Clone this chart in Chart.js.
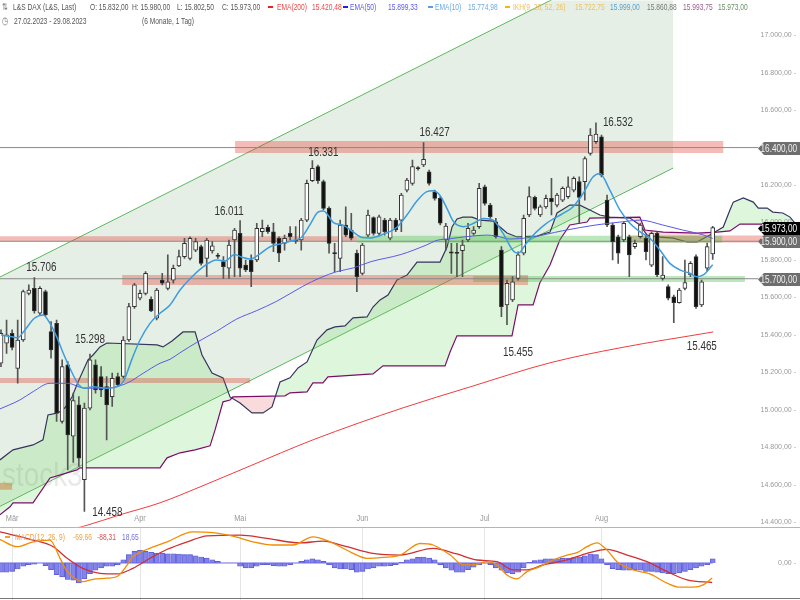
<!DOCTYPE html>
<html>
<head>
<meta charset="utf-8">
<title>L&amp;S DAX</title>
<script src="https://cdn.jsdelivr.net/npm/chart.js@4.4.1/dist/chart.umd.min.js"></script>
<style>
  body { margin: 0; background: #fff; }
  #wrap { position: relative; width: 800px; height: 600px; overflow: hidden;
          font-family: "Liberation Sans", Arial, sans-serif; }
  #main { position: absolute; left: 0; top: 0; }
  #macd { position: absolute; left: 0; top: 527px; }
  .t { position: absolute; font-size: 9.5px; line-height: 10px; white-space: nowrap; color: #555;
       transform: scaleX(0.7); transform-origin: 0 50%; }
  .d { position: absolute; width: 5px; height: 2px; }
</style>
</head>
<body>
<div id="wrap">
  <canvas id="main" width="800" height="527"></canvas>
  <canvas id="macd" width="800" height="73"></canvas>

  <!-- header line 1 -->
  <div class="t" style="left:2px;top:2px;color:#777">⇅</div>
  <div class="t" style="left:13px;top:2px">L&amp;S DAX (L&amp;S, Last)</div>
  <div class="t" style="left:90px;top:2px">O: 15.832,00</div>
  <div class="t" style="left:132px;top:2px">H: 15.980,00</div>
  <div class="t" style="left:177px;top:2px">L: 15.802,50</div>
  <div class="t" style="left:222px;top:2px">C: 15.973,00</div>
  <div class="d" style="left:268px;top:6px;background:#e82020"></div>
  <div class="t" style="left:277px;top:2px;color:#f04848">EMA(200)</div>
  <div class="t" style="left:312px;top:2px;color:#f04848">15.420,48</div>
  <div class="d" style="left:343px;top:6px;background:#2020e8"></div>
  <div class="t" style="left:350px;top:2px;color:#5a5af0">EMA(50)</div>
  <div class="t" style="left:388px;top:2px;color:#5a5af0">15.899,33</div>
  <div class="d" style="left:428px;top:6px;background:#5aa0e0"></div>
  <div class="t" style="left:435px;top:2px;color:#6aaae6">EMA(10)</div>
  <div class="t" style="left:468px;top:2px;color:#6aaae6">15.774,98</div>
  <div class="d" style="left:505px;top:6px;background:#f5b800"></div>
  <div class="t" style="left:513px;top:2px;color:#f0c060">IKH(9, 26, 52, 26)</div>
  <div class="t" style="left:575px;top:2px;color:#f0c060">15.722,75</div>
  <div class="t" style="left:610px;top:2px;color:#5a9fd0">15.999,00</div>
  <div class="t" style="left:647px;top:2px;color:#777">15.860,88</div>
  <div class="t" style="left:683px;top:2px;color:#9a5a8a">15.993,75</div>
  <div class="t" style="left:718px;top:2px;color:#6a8f6a">15.973,00</div>
  <!-- header line 2 -->
  <div class="t" style="left:2px;top:16px;color:#777">◷</div>
  <div class="t" style="left:14px;top:16px">27.02.2023 - 29.08.2023</div>
  <div class="t" style="left:142px;top:16px">(6 Monate, 1 Tag)</div>

  <!-- MACD legend -->
  <div class="d" style="left:5px;top:536px;background:#f0a030"></div>
  <div class="t" style="left:15px;top:532px;color:#f0a040">MACD(12, 26, 9)</div>
  <div class="t" style="left:73px;top:532px;color:#f0a040">-69,66</div>
  <div class="t" style="left:97px;top:532px;color:#e05050">-88,31</div>
  <div class="t" style="left:122px;top:532px;color:#7070e0">18,65</div>
</div>

<script>
// ---------- Kerzen (27.02.2023 - 29.08.2023, Handelstage 0..128) ----------
const candleOpen = [
  15249,15356,15409,15222,15373,15622,15649,15516,15631,15418,
  15462,14938,15240,14860,15027,14627,15009,15240,15178,15124,
  15071,15178,15178,15373,15551,15596,15622,15590,15489,15693,
  15649,15693,15768,15818,15809,15853,15871,15809,15848,15823,
  15791,15756,15907,15942,15773,15800,15800,15951,15974,15951,
  15916,15889,15942,15905,15907,16013,16223,16298,16218,16076,
  15838,15809,15987,15960,15836,15729,15933,16026,15942,16013,
  15916,16013,16013,16173,16209,16290,16307,16271,16164,16129,
  15907,15844,15837,15850,15907,15942,15978,16191,16093,16004,
  15853,15560,15587,15702,15836,16040,16134,16040,16084,16129,
  16093,16120,16138,16173,16218,16218,16369,16431,16458,16120,
  15987,15924,15907,15924,15871,15924,15916,15773,15942,15702,
  15658,15604,15572,15649,15720,15818,15560,15756,15832
];
const candleHigh = [
  15427,15480,15427,15480,15640,15667,15706,15658,15640,15471,
  15480,15267,15258,15090,15071,15036,15298,15267,15231,15178,
  15196,15196,15391,15569,15676,15640,15738,15604,15649,15729,
  15827,15773,15853,15916,15924,15916,15880,15916,15898,15836,
  15818,15907,15969,16011,15800,15827,15996,16013,15987,15996,
  15924,15933,15978,15978,16022,16227,16331,16307,16227,16084,
  15889,16013,16084,16049,15853,15889,16067,16031,16040,16022,
  16022,16022,16156,16236,16333,16298,16427,16280,16173,16138,
  15996,15889,15889,15907,15996,15978,16209,16200,16102,16022,
  15871,15693,15711,15844,16040,16191,16141,16093,16147,16236,
  16156,16191,16244,16244,16244,16351,16502,16532,16467,16147,
  15996,15933,16004,15933,15907,15996,15933,15951,15951,15818,
  15667,15613,15649,15800,15791,15827,15693,15890,15980
];
const candleLow = [
  15231,15302,15320,15142,15365,15613,15516,15507,15501,15276,
  14938,14929,14680,14720,14698,14458,15000,15089,15071,14840,
  15018,15124,15169,15365,15542,15587,15613,15524,15480,15667,
  15640,15676,15764,15809,15800,15844,15773,15711,15836,15809,
  15702,15702,15711,15711,15738,15658,15791,15925,15942,15844,
  15791,15853,15907,15889,15853,16004,16218,16209,16067,15836,
  15738,15738,15924,15907,15631,15720,15924,15933,15933,15933,
  15907,15951,15951,16164,16200,16280,16298,16200,16120,15987,
  15853,15729,15711,15711,15898,15933,15969,16093,16022,15916,
  15498,15455,15578,15693,15827,16031,16067,16031,16076,16040,
  16084,16111,16129,16164,15996,16120,16360,16422,16244,15978,
  15800,15782,15898,15711,15862,15916,15800,15764,15711,15693,
  15587,15465,15569,15640,15711,15542,15551,15740,15802.5
];
const candleClose = [
  15409,15400,15334,15373,15631,15640,15528,15649,15507,15320,
  14982,15231,14867,15050,14742,15009,15267,15107,15107,15027,
  15169,15133,15373,15551,15667,15622,15729,15528,15640,15676,
  15684,15756,15818,15889,15916,15898,15782,15907,15875,15819,
  15764,15880,15960,15756,15747,15738,15969,15969,15951,15889,
  15836,15916,15924,15901,16013,16209,16289,16223,16076,15889,
  15834,15987,15933,15916,15711,15880,16040,15942,16031,15951,
  16013,15960,16147,16227,16298,16288,16337,16209,16129,15996,
  15981,15836,15835,15880,15969,15960,16182,16102,16031,15924,
  15551,15676,15684,15827,16022,16138,16076,16084,16129,16111,
  16147,16182,16191,16236,16134,16342,16467,16472,16253,15987,
  15898,15836,15996,15827,15889,15987,15844,15942,15720,15720,
  15596,15572,15640,15679,15782,15551,15684,15871,15973
];

// ---------- Indikatoren (x = Handelstag-Index) ----------
const ema10Idx = [0,2,3,4.3,6,7.6,8.8,10,11.2,12.4,14,15,16.6,19,20.8,22,23.5,25,26.8,28.6,30.4,32.2,34,36.4,38.8,40.3,42,43.3,44.8,46.3,48.4,50.2,52,54,55.6,57,58,59.8,61.6,63.3,65,66.5,68.8,71.2,73,74.8,76.5,77.7,78.9,80.2,81.4,83.2,85,86.8,88.5,90.3,92.1,93,94.5,96.3,98.1,101.1,102.9,104.7,106.5,107.7,109.5,111.3,113.1,114.9,116.7,118.5,120.3,122.1,123.9,125.1,126.3,128];
const ema10Val = [15400,15390,15385,15427,15489,15507,15462,15391,15302,15222,15133,15116,15124,15116,15124,15151,15267,15373,15462,15516,15560,15640,15700,15765,15800,15795,15830,15815,15805,15827,15871,15885,15900,15920,15990,16055,16062,16000,15985,15950,15920,15918,15938,15975,16040,16115,16164,16170,16147,16076,16004,15978,15996,16022,16013,15942,15850,15836,15890,15950,15996,16049,16084,16156,16244,16262,16173,16067,15996,15951,15916,15853,15782,15747,15729,15711,15720,15775];

const ema50Idx = [-0.2,3.4,5.8,8.8,12,15,19,22.6,25.6,28.6,30.4,32.2,35.2,38.8,42.4,46,49.6,54.3,57.4,60.4,63.4,66.4,72,76.5,78.4,80.8,83.8,87.4,89.1,91.5,95.1,101,107,111.8,115,119,122.6,126.2,128];
const ema50Val = [15005,15053,15098,15142,15142,15116,15116,15142,15196,15249,15270,15305,15360,15420,15485,15530,15580,15660,15705,15738,15758,15790,15830,15880,15905,15914,15925,15933,15928,15912,15920,15956,15987,16004,16013,15987,15960,15935,15915];

const ema200Idx = [10,15.1,21.4,28.6,35.8,44.8,56.1,72.3,84.4,98.7,111.3,128.1];
const ema200Val = [14345,14381,14440,14504,14589,14701,14840,15011,15123,15251,15331,15416];

// Ichimoku-Wolke (Senkou A / Senkou B, 26 Tage nach vorn)
const spanAIdx = [-0.2,2.16,5.76,7.55,8.45,10.25,11.5,12.77,13.85,15.65,16.55,17.8,19.06,28.06,29.14,30.76,32.73,34.9,36.15,37.95,39.93,41.19,42.99,45.14,47.12,48.74,50.18,51.98,53.42,55.04,56.83,58.63,60.07,61.87,63.31,65.83,66.9,68.17,69.6,71.22,73.02,74.82,78.96,80.22,81.12,82.01,83.09,84.71,86.15,88.49,89.75,91,92.8,96.4,98.74,100,102.3,104.1,105.9,107.7,109.5,113.1,114.9,116.2,118,120.9,123.4,125.2,127.5,129.9,131.1,131.7,133.5,135.3,136.2,137.8,138.8,140.6,141.9,142.8];
const spanAVal = [14733,14787,14813,14840,14973,14984,15011,15069,15149,15267,15293,15336,15357,15347,15336,15368,15416,15416,15293,15197,15171,15069,15037,14984,14984,15016,15149,15171,15224,15256,15373,15427,15443,15448,15491,15496,15549,15587,15613,15693,15720,15789,15789,15869,15976,16019,16029,16029,16013,16008,15976,15944,15923,15928,15949,16051,16093,16093,16067,16040,16029,16024,15987,15933,15923,15917,15896,15896,15933,15976,16067,16109,16131,16109,16077,16077,16056,16051,16029,15997];
const spanBIdx = [-0.2,1.62,2.16,5.76,8.81,13.67,14.2,28.6,29.86,32.2,34.9,37.6,38.5,39.93,41.19,41.7,51.08,51.98,55.04,56.1,57.9,58.8,66.9,68.7,79.86,80.76,82,91.9,93,95.7,96.9,98.74,100.5,102.3,105.4,105.9,114.9,115.8,119.1,125.2,128.8,131.1,132.9,136.5,142.8];
const spanBVal = [14440,14483,14504,14504,14637,14680,14691,14691,14744,14771,14787,14808,14893,15043,15053,15069,15075,15091,15096,15144,15144,15176,15192,15235,15235,15309,15395,15395,15560,15560,15677,15773,15907,15987,16003,16024,16029,15960,15949,15944,15949,15955,15992,15992,15987];

// Trendkanal
const channelIdx = [-0.2, 120.9];
const channelUpper = [15709, 17515];
const channelLower = [14485, 16291];

// Zonen (Preis, von/bis Index)
const zonePrice = [16403, 15914, 15911, 15912, 15693, 15699, 15157, 14592];
const zoneStart = [42.1, -0.2, 64, 112.8, 21.8, 84.9, -0.2, -0.2];
const zoneEnd = [129.9, 64, 129.7, 143.7, 94.8, 133.8, 44.8, 2];

// Horizontale Linien + Kursmarken
const levelPrice = [16400, 15900, 15700];
const lastPrice = 15973;
const priceTicks = [14400,14600,14800,15000,15200,15400,15600,15800,16000,16200,16400,16600,16800,17000];
const monthIdx = [2, 25, 43, 65, 87, 108];
const monthLabels = ['Mär', 'Apr', 'Mai', 'Jun', 'Jul', 'Aug'];

// Hoch-/Tief-Markierungen
const markIdx = [6, 16, 43, 56, 76, 107, 91, 121, 15];
const markVal = [15706, 15298, 16011, 16331, 16427, 16532, 15455, 15465, 14458];

// ---------- MACD(12, 26, 9) ----------
const macdIdx = [-0.2,2.9,5.8,8.8,10.6,11.9,13.7,14.7,16.5,19.1,20.9,22.7,23.7,26.3,29.9,34.5,38.1,41.7,45.3,48.9,52.5,56.1,59.2,62.8,65.8,68.7,71.8,75.4,77.7,80.8,83.1,84.9,87.4,89.2,91,92.8,94.6,96.9,99.3,101.8,103.6,105.4,107.2,109,110.8,113.7,116.7,119.8,122.1,124.5,126.3,127.9];
const macdVal = [110,76,99,107,23,-40,-79,-87,-76,-71,-63,-9,29,64,99,145,142,125,99,84,84,122,99,52,22,26,37,91,84,37,-9,-9,6,-9,-56,-74,-40,-17,14,37,48,76,94,60,6,-32,-51,-94,-113,-113,-102,-70];
const signalIdx = [-0.2,5.8,9.4,11.9,14.7,17.8,20.9,23.7,26.8,29.9,33.5,37.1,43,47.8,53.8,57.9,62.2,66.9,71.8,77.7,82,85.6,89.2,92.1,94.6,97.5,101.8,105.4,109,112.6,116.2,119.8,123.4,127.9];
const signalVal = [145,107,76,22,-25,-48,-51,-25,22,64,99,127,130,115,94,102,76,45,37,68,42,14,6,-32,-32,-9,14,45,64,37,6,-40,-79,-91];
const histVal = [
  -43,-43,-39,-28,-15,-8,-5,0,-12,-31,
  -54,-65,-77,-80,-93,-74,-50,-34,-23,-15,
  -15,-8,15,39,54,59,54,50,46,46,
  43,43,42,39,39,34,28,23,15,8,
  0,0,0,-15,-23,-23,-15,-8,-8,-12,
  -15,-15,-8,0,8,15,19,15,8,-8,
  -23,-28,-28,-31,-43,-39,-28,-23,-15,-15,
  -12,-8,3,15,20,26,28,23,15,-8,
  -23,-34,-43,-43,-31,-20,-8,0,-8,-23,
  -34,-46,-50,-43,-23,3,11,15,19,19,
  20,22,23,25,28,34,42,39,19,-8,
  -26,-31,-34,-34,-31,-34,-39,-39,-43,-46,
  -50,-50,-46,-39,-31,-23,-15,-8,19
];

// ---------- Helfer ----------
const FONT = '"Liberation Sans", Arial, sans-serif';
const X_MIN = -0.18, X_MAX = 143.7;

function de(v, d) {
  const neg = v < 0;
  let [a, b] = Math.abs(v).toFixed(d).split('.');
  a = a.replace(/\B(?=(\d{3})+(?!\d))/g, '.');
  return (neg ? '-' : '') + a + (b ? ',' + b : '');
}

const pts = (xs, ys) => xs.map((x, k) => ({ x, y: ys[k] }));

function line(xs, ys, color, width, order, extra) {
  return Object.assign({
    type: 'line', data: pts(xs, ys), borderColor: color, borderWidth: width,
    pointRadius: 0, fill: false, order
  }, extra || {});
}

// schmale Schrift wie im Original (horizontal gestaucht)
function narrowText(ctx, txt, x, y, align) {
  ctx.save();
  ctx.translate(x, y);
  ctx.scale(0.82, 1);
  ctx.textAlign = align;
  ctx.fillText(txt, 0, 0);
  ctx.restore();
}

// ---------- Hauptchart ----------
const zoneStyle = [
  ['rgba(225,60,50,0.35)', 12], ['rgba(225,60,50,0.35)', 5], ['rgba(60,190,60,0.35)', 7],
  ['rgba(225,60,50,0.35)', 7], ['rgba(225,60,50,0.35)', 10], ['rgba(60,190,60,0.35)', 6],
  ['rgba(225,60,50,0.35)', 5], ['rgba(205,140,80,0.6)', 7]
];
const zoneSets = zonePrice.map((p, k) => line([zoneStart[k], zoneEnd[k]], [p, p],
  zoneStyle[k][0], zoneStyle[k][1], 12, { borderCapStyle: 'butt' }));
const levelSets = levelPrice.map(p => line([X_MIN, 136.2], [p, p], '#8a8a8a', 1, 11));

const bodies = {
  type: 'bar', order: 5, grouped: false, barThickness: 4, minBarLength: 1,
  data: candleOpen.map((o, i) => ({ x: i, y: [o, candleClose[i]] })),
  backgroundColor: c => (c.raw && c.raw.y[1] >= c.raw.y[0]) ? '#ffffff' : '#111111',
  borderColor: '#333', borderWidth: 1, borderSkipped: false
};
const wicks = {
  type: 'bar', order: 6, grouped: false, barThickness: 1,
  data: candleLow.map((l, i) => ({ x: i, y: [l, candleHigh[i]] })),
  backgroundColor: '#555', borderWidth: 0
};

const markOffset = [[7, -10], [0, -14], [-11, -9], [11, -8], [11, -10], [22, 0], [11, 28], [28, 24], [23, 1]];

const mainOverlay = {
  id: 'mainOverlay',
  beforeDatasetsDraw(chart) {
    const ctx = chart.ctx;
    ctx.save();
    ctx.font = '34px ' + FONT;
    ctx.fillStyle = 'rgba(0,0,0,0.09)';
    narrowText(ctx, 'stock3', 2, 486, 'left');
    ctx.restore();
  },
  afterDraw(chart) {
    const { ctx, scales: { x, y } } = chart;
    ctx.save();
    ctx.textBaseline = 'middle';
    // Monatsnamen
    ctx.font = '9px ' + FONT;
    ctx.fillStyle = '#999';
    monthIdx.forEach((m, k) => narrowText(ctx, monthLabels[k], x.getPixelForValue(m), 519, 'center'));
    // Hoch/Tief
    ctx.font = '12px ' + FONT;
    ctx.fillStyle = '#333';
    markIdx.forEach((m, k) => {
      const [dx, dy] = markOffset[k];
      narrowText(ctx, de(markVal[k], 0), x.getPixelForValue(m) + dx, y.getPixelForValue(markVal[k]) + dy, 'center');
    });
    // Kursmarken rechts
    const box = (p, fill, txt) => {
      const py = Math.round(y.getPixelForValue(p)) + 0.5;
      ctx.beginPath();
      ctx.moveTo(758, py); ctx.lineTo(764, py - 6.5); ctx.lineTo(800, py - 6.5);
      ctx.lineTo(800, py + 6.5); ctx.lineTo(764, py + 6.5); ctx.closePath();
      ctx.fillStyle = fill; ctx.fill();
      ctx.fillStyle = txt; ctx.font = '10px ' + FONT;
      narrowText(ctx, de(p, 2), 797, py + 0.5, 'right');
    };
    levelPrice.forEach(p => box(p, '#6e6e6e', '#f2f2f2'));
    box(lastPrice, '#000', '#fff');
    ctx.restore();
  }
};

new Chart(document.getElementById('main'), {
  type: 'line',
  data: {
    datasets: [
      line(channelIdx, channelUpper, '#5cb85c', 1, 20,
        { fill: { target: 1, above: 'rgba(0,100,0,0.10)', below: 'rgba(0,100,0,0.10)' } }),
      line(channelIdx, channelLower, '#5cb85c', 1, 19),
      line(spanAIdx, spanAVal, '#35355e', 1.2, 16,
        { fill: { target: 3, above: 'rgba(90,210,80,0.2)', below: 'rgba(230,90,90,0.22)' } }),
      line(spanBIdx, spanBVal, '#7a0f6a', 1.2, 15),
      ...zoneSets,
      ...levelSets,
      line(ema200Idx, ema200Val, '#f03c3c', 1, 10, { cubicInterpolationMode: 'monotone' }),
      wicks,
      bodies,
      line(ema50Idx, ema50Val, '#5a5ae6', 1, 3, { cubicInterpolationMode: 'monotone' }),
      line(ema10Idx, ema10Val, '#3d9be0', 1.5, 2, { cubicInterpolationMode: 'monotone' })
    ]
  },
  options: {
    responsive: false, animation: false, devicePixelRatio: 1, events: [],
    layout: { padding: 0 },
    plugins: { legend: { display: false }, tooltip: { enabled: false } },
    scales: {
      x: { type: 'linear', min: X_MIN, max: X_MAX, offset: false, grid: { offset: false }, display: false },
      y: {
        type: 'linear', position: 'right', min: 14376, max: 17186.7,
        afterFit: s => { s.width = 0; },
        afterBuildTicks: s => { s.ticks = priceTicks.map(v => ({ value: v })); },
        grid: { display: false }, border: { display: false },
        ticks: { mirror: true, padding: -4, autoSkip: false, color: '#999',
                 font: { family: FONT, size: 7 }, callback: v => de(v, 2) + ' -' }
      }
    }
  },
  plugins: [mainOverlay]
});

// ---------- MACD ----------
const macdFrame = {
  id: 'macdFrame',
  afterDraw(chart) {
    const ctx = chart.ctx;
    ctx.save();
    ctx.strokeStyle = '#b5b5b5'; ctx.lineWidth = 1;
    ctx.beginPath(); ctx.moveTo(0, 0.5); ctx.lineTo(800, 0.5); ctx.stroke();
    ctx.strokeStyle = '#777';
    ctx.beginPath(); ctx.moveTo(0, 71.5); ctx.lineTo(800, 71.5); ctx.stroke();
    ctx.restore();
  }
};

new Chart(document.getElementById('macd'), {
  type: 'line',
  data: {
    datasets: [
      {
        type: 'bar', order: 4, grouped: false, barThickness: 5,
        data: histVal.map((v, i) => ({ x: i, y: v })),
        backgroundColor: 'rgba(118,118,232,0.9)', borderColor: '#5050c8', borderWidth: 0.5
      },
      line([X_MIN, 128], [0, 0], '#6a6ae8', 1, 3),
      line(signalIdx, signalVal, '#d03030', 1.3, 2, { cubicInterpolationMode: 'monotone' }),
      line(macdIdx, macdVal, '#f28c00', 1.3, 1, { cubicInterpolationMode: 'monotone' })
    ]
  },
  options: {
    responsive: false, animation: false, devicePixelRatio: 1, events: [],
    layout: { padding: 0 },
    plugins: { legend: { display: false }, tooltip: { enabled: false } },
    scales: {
      x: {
        type: 'linear', min: X_MIN, max: X_MAX, offset: false,
        afterFit: s => { s.height = 0; },
        afterBuildTicks: s => { s.ticks = monthIdx.map(v => ({ value: v })); },
        grid: { color: '#e6e6e6', drawTicks: false, offset: false }, border: { display: false },
        ticks: { display: false }
      },
      y: {
        type: 'linear', position: 'right', min: -171.7, max: 167,
        afterFit: s => { s.width = 0; },
        afterBuildTicks: s => { s.ticks = [{ value: 0 }]; },
        grid: { display: false }, border: { display: false },
        ticks: { mirror: true, padding: -4, color: '#999',
                 font: { family: FONT, size: 7 }, callback: v => de(v, 2) + ' -' }
      }
    }
  },
  plugins: [macdFrame]
});
</script>
</body>
</html>
